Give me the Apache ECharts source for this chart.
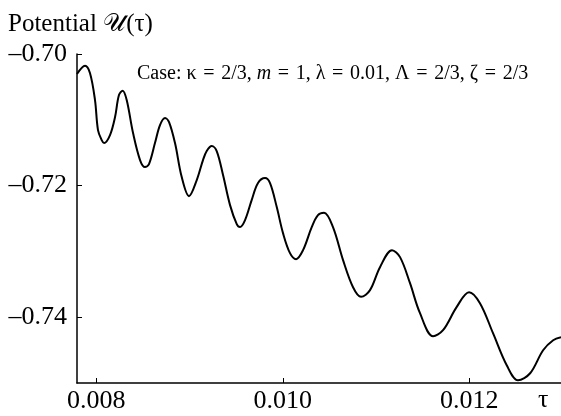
<!DOCTYPE html>
<html>
<head>
<meta charset="utf-8">
<script src="https://cdn.jsdelivr.net/npm/echarts@6/dist/echarts.min.js"></script>
<style>
  html, body { margin: 0; padding: 0; background: #fff; }
  #chart { width: 561px; height: 416px; }
</style>
</head>
<body>
<div id="chart"></div>
<script>
// curve: tau values and potential values
var tauValues = [
  0.007793, 0.007879, 0.007932, 0.007986, 0.008018, 0.008058, 0.008083, 0.008147, 0.008201, 0.008243,
  0.008283, 0.008326, 0.008394, 0.008469, 0.008522, 0.008565, 0.008629, 0.008683, 0.008737, 0.008780,
  0.008844, 0.008916, 0.008994, 0.009077, 0.009144, 0.009184, 0.009238, 0.009291, 0.009359, 0.009434,
  0.009506, 0.009541, 0.009595, 0.009666, 0.009734, 0.009809, 0.009863, 0.009935, 0.010002, 0.010077,
  0.010142, 0.010217, 0.010310, 0.010377, 0.010442, 0.010538, 0.010646, 0.010753, 0.010839, 0.010935,
  0.011042, 0.011171, 0.011257, 0.011364, 0.011471, 0.011611, 0.011718, 0.011865, 0.011997, 0.012114,
  0.012254, 0.012401, 0.012522, 0.012652, 0.012791, 0.012899, 0.012983
];
var potentialValues = [
  -0.70304, -0.70178, -0.70289, -0.70700, -0.71156, -0.71308, -0.71354, -0.71232, -0.70958, -0.70624,
  -0.70558, -0.70700, -0.71202, -0.71612, -0.71719, -0.71673, -0.71354, -0.71080, -0.70973, -0.71034,
  -0.71354, -0.71871, -0.72160, -0.71916, -0.71612, -0.71475, -0.71399, -0.71475, -0.71840, -0.72297,
  -0.72586, -0.72631, -0.72525, -0.72221, -0.71962, -0.71886, -0.71962, -0.72327, -0.72722, -0.73027,
  -0.73118, -0.72981, -0.72631, -0.72449, -0.72414, -0.72631, -0.73133, -0.73544, -0.73691, -0.73589,
  -0.73240, -0.72981, -0.73087, -0.73483, -0.73939, -0.74289, -0.74198, -0.73843, -0.73620, -0.73787,
  -0.74243, -0.74730, -0.74958, -0.74852, -0.74502, -0.74350, -0.74304
];
var xTicks = [0.008, 0.010, 0.012];
var yTicks = [-0.74, -0.72, -0.70];

var seriesData = tauValues.map(function (t, i) { return [t, potentialValues[i]]; });
var serif = 'Liberation Serif, Times New Roman, serif';
var sp = '\u2004'; // a bit wider space round the = signs

var myChart = echarts.init(document.getElementById('chart'));
var option = {
  animation: false,
  backgroundColor: '#fff',
  title: {
    text: 'Potential 𝒰(τ)',
    left: 3,
    top: 7,
    textStyle: { fontFamily: serif, fontSize: 25, fontWeight: 'normal', color: '#000' }
  },
  grid: { left: 77, top: 54, right: 0, bottom: 33 },
  xAxis: {
    type: 'value',
    min: 0.007793,
    max: 0.012983,
    splitLine: { show: false },
    axisLine: { lineStyle: { color: '#000', width: 1.5 } },
    axisTick: { inside: true, length: 5, customValues: xTicks, lineStyle: { color: '#000', width: 1 } },
    axisLabel: {
      customValues: xTicks,
      margin: 5,
      fontFamily: serif, fontSize: 26, color: '#000',
      formatter: function (v) { return v.toFixed(3); }
    }
  },
  yAxis: {
    type: 'value',
    min: -0.75,
    max: -0.70,
    splitLine: { show: false },
    axisLine: { show: true, lineStyle: { color: '#000', width: 1.5 } },
    axisTick: { show: true, inside: true, length: 5, customValues: yTicks, lineStyle: { color: '#000', width: 1 } },
    axisLabel: {
      customValues: yTicks,
      margin: 10,
      fontFamily: serif, fontSize: 26, color: '#000',
      formatter: function (v) { return '–' + Math.abs(v).toFixed(2); }
    }
  },
  graphic: [
    {
      type: 'text',
      left: 137,
      top: 64,
      style: {
        text: 'Case: κ' + sp + '=' + sp + '2/3, {i|m}' + sp + '=' + sp + '1, λ' + sp + '=' + sp + '0.01, Λ' + sp + '=' + sp + '2/3, ζ' + sp + '=' + sp + '2/3',
        font: '20px ' + serif,
        fill: '#000',
        rich: { i: { fontStyle: 'italic', fontFamily: serif, fontSize: 20 } }
      }
    },
    {
      type: 'text',
      left: 538,
      top: 387,
      style: { text: 'τ', font: '26px ' + serif, fill: '#000' }
    }
  ],
  series: [
    {
      type: 'line',
      data: seriesData,
      smooth: 0.35,
      showSymbol: false,
      clip: true,
      lineStyle: { color: '#000', width: 2 }
    }
  ]
};
myChart.setOption(option);
</script>
</body>
</html>
